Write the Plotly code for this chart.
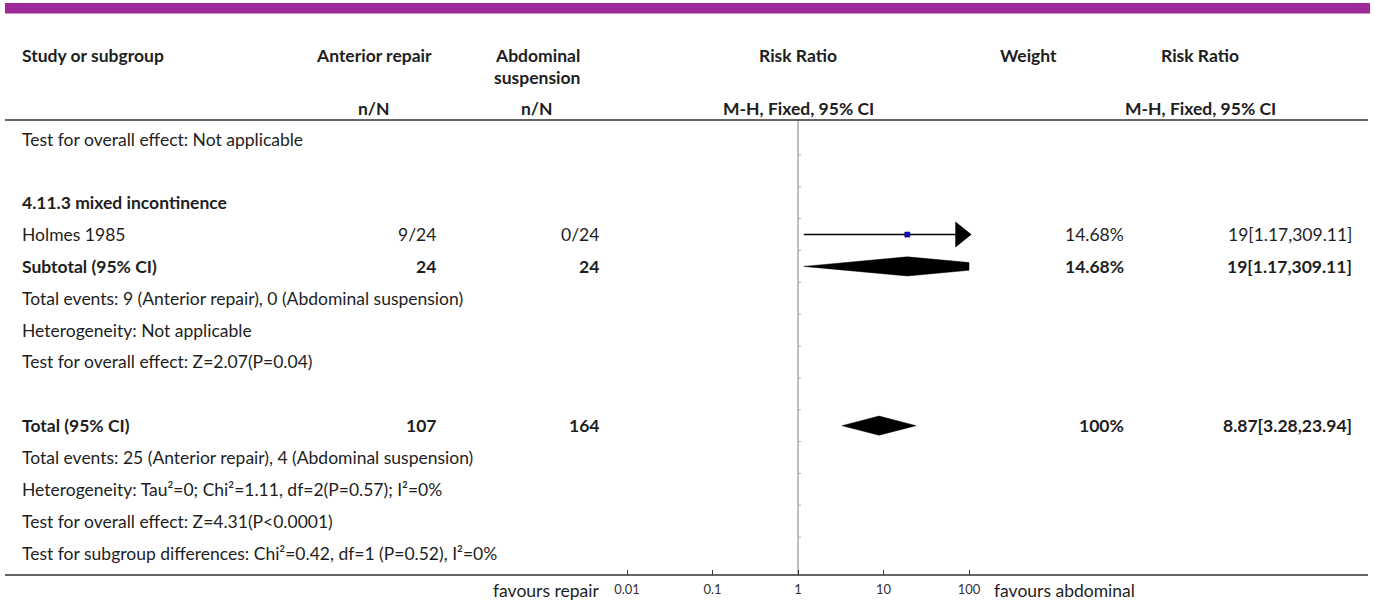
import math
import plotly.graph_objects as go

W, H = 1375, 606

# ---- table content -------------------------------------------------------
row_labels = [
    "Test for overall effect: Not applicable",
    "",
    "4.11.3 mixed incontinence",
    "Holmes 1985",
    "Subtotal (95% CI)",
    "Total events: 9 (Anterior repair), 0 (Abdominal suspension)",
    "Heterogeneity: Not applicable",
    "Test for overall effect: Z=2.07(P=0.04)",
    "",
    "Total (95% CI)",
    "Total events: 25 (Anterior repair), 4 (Abdominal suspension)",
    "Heterogeneity: Tau²=0; Chi²=1.11, df=2(P=0.57); I²=0%",
    "Test for overall effect: Z=4.31(P<0.0001)",
    "Test for subgroup differences: Chi²=0.42, df=1 (P=0.52), I²=0%",
]
bold_rows = [2, 4, 9]

# study / pooled rows: row index, type, events, weight, RR, CI
effect_rows = [3, 4, 9]
effect_kind = ["study", "subtotal", "total"]
repair_col = ["9/24", "24", "107"]
abdominal_col = ["0/24", "24", "164"]
weight_col = ["14.68%", "14.68%", "100%"]
rr_est = [19, 19, 8.87]
rr_lo = [1.17, 1.17, 3.28]
rr_hi = [309.11, 309.11, 23.94]

axis_ticks = [0.01, 0.1, 1, 10, 100]
axis_tick_text = ["0.01", "0.1", "1", "10", "100"]
plot_min, plot_max = 0.01, 100

# ---- layout helpers --------------------------------------------------------
ROW0_PX, ROW_PX = 139, 31.85


def px_x(px):
    return px / W


def row_of(px):
    return (px - ROW0_PX) / ROW_PX


FONT = "Lato"
TXT = "#1e1e1e"
SIZE = 17.5

fig = go.Figure()
ann = []


def text(s, x_px, row, anchor="left", bold=False, size=SIZE, color=TXT):
    ann.append(dict(
        x=px_x(x_px), xref="paper", y=row, yref="y",
        text=f"<b>{s}</b>" if bold else s,
        xanchor=anchor, yanchor="middle", showarrow=False,
        font=dict(family=FONT, size=size, color=color),
    ))


# header
hdr_row = row_of(55)
text("Study or subgroup", 20, hdr_row, bold=True)
text("Anterior repair", 374, hdr_row, "center", True)
text("Abdominal", 537, row_of(55), "center", True)
text("suspension", 537, row_of(77), "center", True)
text("Risk Ratio", 798, hdr_row, "center", True)
text("Weight", 1028, hdr_row, "center", True)
text("Risk Ratio", 1200, hdr_row, "center", True)
sub_row = row_of(108)
text("n/N", 374, sub_row, "center", True)
text("n/N", 537, sub_row, "center", True)
text("M-H, Fixed, 95% CI", 798, sub_row, "center", True)
text("M-H, Fixed, 95% CI", 1200, sub_row, "center", True)

# row labels
for i, lab in enumerate(row_labels):
    if lab:
        text(lab, 20, i, bold=i in bold_rows)

# numeric columns
for r, a, b, w, e, lo, hi in zip(effect_rows, repair_col, abdominal_col,
                                 weight_col, rr_est, rr_lo, rr_hi):
    bold = r in bold_rows
    text(a, 438, r, "right", bold)
    text(b, 601, r, "right", bold)
    text(w, 1126, r, "right", bold)
    text(f"{e:g}[{lo:.2f},{hi:.2f}]", 1354, r, "right", bold)

# favours labels
fav_row = row_of(590)
text("favours repair", 601, fav_row, "right")
text("favours abdominal", 992, fav_row, "left")

# ---- forest plot marks -----------------------------------------------------
lg = math.log10
top_row, axis_row = row_of(120), row_of(575)

# line of no effect
fig.add_trace(go.Scatter(x=[1, 1], y=[top_row, axis_row], mode="lines",
                         line=dict(color="#a8a8a8", width=1.5),
                         hoverinfo="skip", showlegend=False))
# small row ticks on the line of no effect
tx, ty = [], []
for i in range(len(row_labels) - 1):
    tx += [1, 10 ** 0.035, None]
    ty += [i + 0.5, i + 0.5, None]
fig.add_trace(go.Scatter(x=tx, y=ty, mode="lines",
                         line=dict(color="#a8a8a8", width=1),
                         hoverinfo="skip", showlegend=False))

DIAMOND_H = 0.3
ARROW_H = 0.41
ARROW_LEN = 0.16  # decades


def clip(v):
    return min(max(v, plot_min), plot_max)


for r, kind, e, lo, hi in zip(effect_rows, effect_kind, rr_est, rr_lo, rr_hi):
    if kind == "study":
        x_end = clip(hi)
        line_end = x_end / 10 ** (ARROW_LEN * 0.9) if hi > plot_max else x_end
        fig.add_trace(go.Scatter(x=[clip(lo), line_end], y=[r, r], mode="lines",
                                 line=dict(color="black", width=1.5),
                                 hoverinfo="skip", showlegend=False))
        if hi > plot_max:
            base = plot_max / 10 ** ARROW_LEN
            fig.add_trace(go.Scatter(
                x=[base, plot_max * 10 ** 0.03, base, base],
                y=[r - ARROW_H, r, r + ARROW_H, r - ARROW_H],
                mode="lines", fill="toself", fillcolor="black",
                line=dict(color="black", width=0),
                hoverinfo="skip", showlegend=False))
        fig.add_trace(go.Scatter(x=[e], y=[r], mode="markers",
                                 marker=dict(symbol="square", size=5, color="#1010d0",
                                             line=dict(color="#000044", width=0.6)),
                                 hoverinfo="skip", showlegend=False))
    else:
        h = DIAMOND_H

        def half(xv):
            if xv <= e:
                f = (lg(xv) - lg(lo)) / (lg(e) - lg(lo))
            else:
                f = (lg(hi) - lg(xv)) / (lg(hi) - lg(e))
            return h * f

        left, right = clip(lo), clip(hi)
        xs = [left, e, right]
        ys_top = [r - half(left), r - h, r - half(right)]
        ys_bot = [r + half(right), r + h, r + half(left)]
        px_ = xs + xs[::-1] + [left]
        py_ = ys_top + ys_bot + [ys_top[0]]
        fig.add_trace(go.Scatter(x=px_, y=py_, mode="lines", fill="toself",
                                 fillcolor="black", line=dict(color="black", width=0.5),
                                 hoverinfo="skip", showlegend=False))

# ---- rules -------------------------------------------------------------------
shapes = [
    dict(type="rect", xref="paper", yref="paper", x0=px_x(5), x1=px_x(1370),
         y0=1 - 13.5 / H, y1=1 - 3 / H, fillcolor="#9c2a98", line=dict(width=0)),
    dict(type="line", xref="paper", yref="y", x0=px_x(5), x1=px_x(1368),
         y0=top_row, y1=top_row, line=dict(color="#333333", width=1.5)),
    dict(type="line", xref="paper", yref="y", x0=px_x(5), x1=px_x(1368),
         y0=axis_row, y1=axis_row, line=dict(color="#333333", width=1.5)),
]

# axis: 0.01 sits at 627 px, 100 at 969 px
dom_l, dom_r = 600, 990
dec_px = (969 - 627) / 4
x_range = [-2 - (627 - dom_l) / dec_px, 2 + (dom_r - 969) / dec_px]

fig.update_layout(
    width=W, height=H, margin=dict(l=0, r=0, t=0, b=0),
    paper_bgcolor="white", plot_bgcolor="white",
    annotations=ann, shapes=shapes, showlegend=False,
    xaxis=dict(type="log", range=x_range, domain=[px_x(dom_l), px_x(dom_r)],
               anchor="free", position=(H - 575) / H,
               showgrid=False, zeroline=False, showline=False,
               ticks="inside", ticklen=5, tickwidth=1, tickcolor="#333333",
               tickvals=axis_ticks, ticktext=axis_tick_text,
               tickfont=dict(family="Lato", size=13, color="#333333"),
               ticklabelstandoff=5, fixedrange=True),
    yaxis=dict(range=[row_of(H), row_of(0)], domain=[0, 1], visible=False,
               fixedrange=True),
)

fig.write_html("out.html")
